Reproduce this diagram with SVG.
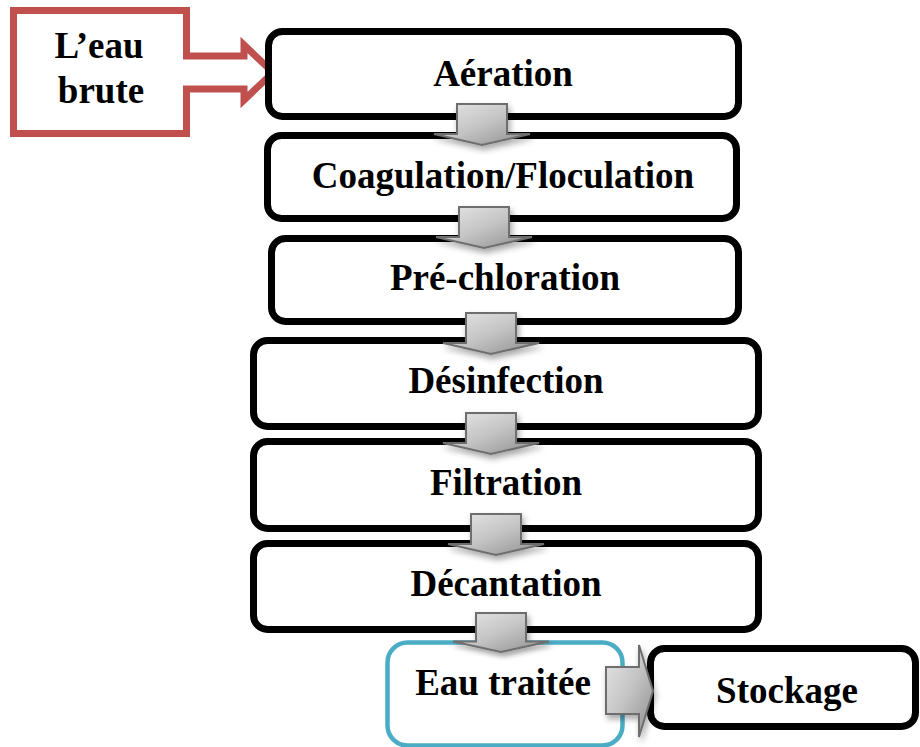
<svg xmlns="http://www.w3.org/2000/svg" width="920" height="747" viewBox="0 0 920 747">
  <defs>
    <linearGradient id="g" x1="0" y1="0" x2="1" y2="1">
      <stop offset="0" stop-color="#e8e8e8"/>
      <stop offset="0.5" stop-color="#c4c4c4"/>
      <stop offset="1" stop-color="#8c8c8c"/>
    </linearGradient>
    <filter id="sh" x="-30%" y="-30%" width="160%" height="170%">
      <feDropShadow dx="2" dy="4" stdDeviation="3" flood-color="#000" flood-opacity="0.35"/>
    </filter>
    <path id="down" d="M-25,0 H25 V30 H48 L0,41 L-48,30 H-25 Z"/>
  </defs>
  <style>
    .box{fill:#fff;stroke:#000;stroke-width:7}
    .lbl{font-family:"Liberation Serif","Times New Roman",serif;font-weight:bold;font-size:37px;fill:#000;text-anchor:middle}
    .arr{fill:url(#g);stroke:#6e6e6e;stroke-width:2;filter:url(#sh)}
  </style>
  <rect width="920" height="747" fill="#fff"/>

  <g id="eau-brute">
    <path d="M13.5,10.5 H186.5 V56 H244 V45 L273,72.5 L244,100 V89 H186.5 V133.5 H13.5 Z" fill="#fff" stroke="#C0504D" stroke-width="7"/>
    <text class="lbl" x="99" y="58">L’eau</text>
    <text class="lbl" x="101" y="103">brute</text>
  </g>
  <g id="aeration">
    <rect class="box" x="268.5" y="31.5" width="470" height="85" rx="14"/>
    <text class="lbl" x="503" y="86">Aération</text>
  </g>
  <g id="coagulation">
    <rect class="box" x="267.5" y="135.5" width="469" height="83" rx="14"/>
    <text class="lbl" x="503" y="188">Coagulation/Floculation</text>
  </g>
  <g id="prechloration">
    <rect class="box" x="271.5" y="238.5" width="467" height="83" rx="14"/>
    <text class="lbl" x="505" y="290">Pré-chloration</text>
  </g>
  <g id="desinfection">
    <rect class="box" x="253.5" y="340.5" width="505" height="86" rx="14"/>
    <text class="lbl" x="506" y="393">Désinfection</text>
  </g>
  <g id="filtration">
    <rect class="box" x="253.5" y="441.5" width="505" height="87" rx="14"/>
    <text class="lbl" x="506" y="495">Filtration</text>
  </g>
  <g id="decantation">
    <rect class="box" x="253.5" y="543.5" width="505" height="86" rx="14"/>
    <text class="lbl" x="506" y="596">Décantation</text>
  </g>
  <g id="eau-traitee">
    <rect x="387.5" y="642.5" width="235" height="103" rx="20" fill="#fff" stroke="#4BACC6" stroke-width="4.5"/>
    <text class="lbl" x="503" y="695">Eau traitée</text>
  </g>
  <g id="stockage">
    <rect class="box" x="650.5" y="648.5" width="265" height="78" rx="14"/>
    <text class="lbl" x="787" y="703">Stockage</text>
  </g>

  <g id="connectors">
    <use href="#down" class="arr" transform="translate(482,104)"/>
    <use href="#down" class="arr" transform="translate(484,207)"/>
    <use href="#down" class="arr" transform="translate(491,313)"/>
    <use href="#down" class="arr" transform="translate(491,413)"/>
    <use href="#down" class="arr" transform="translate(496,514)"/>
    <use href="#down" class="arr" transform="translate(501,613) scale(1,0.95)"/>
    <path class="arr" d="M606,667 H639 V645 L653,691 L639,737 V714 H606 Z"/>
  </g>
</svg>
